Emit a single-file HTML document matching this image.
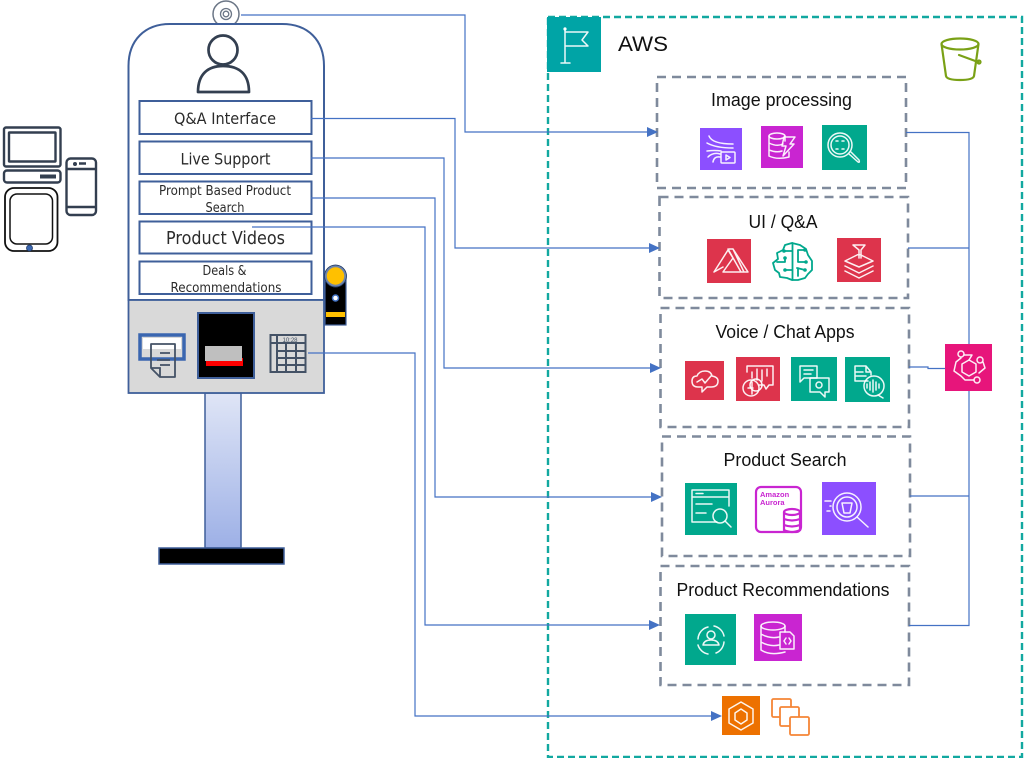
<!DOCTYPE html>
<html><head><meta charset="utf-8"><style>
html,body{margin:0;padding:0;background:#fff;width:1024px;height:758px;overflow:hidden}
svg{display:block;filter:blur(.3px)}
.k{font-family:"DejaVu Sans","Liberation Sans",sans-serif;fill:#2b2b2b;text-anchor:middle}
.a{font-family:"Liberation Sans",sans-serif;fill:#111;text-anchor:middle}
.c{fill:none;stroke:#4472c4;stroke-width:1.2}
.d{fill:none;stroke:#7f8a9c;stroke-width:2.6;stroke-dasharray:9 6}
.b{fill:#fff;stroke:#3f5f9a;stroke-width:2}
.i{fill:none;stroke:#fff;stroke-width:1.5;stroke-opacity:.92;stroke-linecap:round;stroke-linejoin:round}
.n{fill:none;stroke:#333f50;stroke-width:2.4;stroke-linejoin:round}
</style></head><body>
<svg width="1024" height="758" viewBox="0 0 1024 758" xmlns="http://www.w3.org/2000/svg">
<defs><linearGradient id="g" x1="0" y1="0" x2="0" y2="1"><stop offset="0" stop-color="#dfe5f6"/><stop offset="1" stop-color="#9db0e6"/></linearGradient></defs>

<!-- AWS box -->
<rect x="548" y="17" width="474" height="740" fill="none" stroke="#12a8a0" stroke-width="2.4" stroke-dasharray="7 4"/>
<rect x="547" y="17" width="54" height="55" fill="#00a4a6"/>
<g class="i"><path d="M565 28V63M561 63H570M565 32H588L582 40L588 46H565"/></g>
<circle cx="565" cy="29" r="1.6" fill="#fff"/>
<text class="a" x="643" y="51" font-size="21" textLength="50" lengthAdjust="spacingAndGlyphs">AWS</text>

<!-- bucket -->
<g fill="none" stroke="#7aa116" stroke-width="2.2" stroke-linecap="round">
<ellipse cx="960" cy="44" rx="18.5" ry="5.5"/>
<path d="M941.5 44L946 76Q947 80 960 80Q973 80 974 76L978.5 44"/>
<path d="M959 55L978 62"/><circle cx="979" cy="62" r="1.5"/></g>

<!-- kiosk -->
<rect x="205" y="393" width="36" height="155" fill="url(#g)" stroke="#3f5f9a" stroke-width="1.5"/>
<rect x="159" y="548" width="125" height="16" fill="#000" stroke="#3f5f9a" stroke-width="1.5"/>
<circle cx="226" cy="14" r="13" fill="#fff" stroke="#6b7686" stroke-width="1.5"/>
<circle cx="226" cy="14" r="5.5" fill="none" stroke="#6b7686" stroke-width="1.3"/>
<circle cx="226" cy="14" r="2.8" fill="none" stroke="#6b7686" stroke-width="1.3"/>
<path d="M128.5 300V66C128.5 40 145 24 170 24H282C308 24 324 40 324 66V300Z" fill="#fff" stroke="#3f5f9a" stroke-width="2"/>
<rect x="128.5" y="300" width="195.5" height="93" fill="#d9d9d9" stroke="#3f5f9a" stroke-width="1.8"/>

<!-- person -->
<circle cx="223" cy="50" r="14.5" fill="none" stroke="#333f50" stroke-width="2.7"/>
<path d="M198 92C198 74 208 66 223 66C239 66 249 74 249 92Z" fill="none" stroke="#333f50" stroke-width="2.7" stroke-linejoin="round"/>

<!-- menu -->
<rect class="b" x="139.5" y="101" width="172" height="33"/>
<rect class="b" x="139.5" y="141.5" width="172" height="32.5"/>
<rect class="b" x="139.5" y="181.5" width="172" height="32.5"/>
<rect class="b" x="139.5" y="221.5" width="172" height="32"/>
<rect class="b" x="139.5" y="261.5" width="172" height="32.5"/>
<text class="k" x="225" y="124" font-size="16" textLength="102" lengthAdjust="spacingAndGlyphs">Q&amp;A Interface</text>
<text class="k" x="225.5" y="164.500" font-size="16" textLength="90" lengthAdjust="spacingAndGlyphs">Live Support</text>
<text class="k" x="225" y="195" font-size="13" textLength="132" lengthAdjust="spacingAndGlyphs">Prompt Based Product</text>
<text class="k" x="225" y="212" font-size="13" textLength="39" lengthAdjust="spacingAndGlyphs">Search</text>
<text class="k" x="225.5" y="244" font-size="18" textLength="119" lengthAdjust="spacingAndGlyphs">Product Videos</text>
<text class="k" x="224.5" y="275" font-size="13" textLength="44" lengthAdjust="spacingAndGlyphs">Deals &amp;</text>
<text class="k" x="226" y="292" font-size="13" textLength="111" lengthAdjust="spacingAndGlyphs">Recommendations</text>

<!-- scanner -->
<rect x="325" y="278" width="21" height="47" fill="#000" stroke="#3f5f9a" stroke-width="1.2"/>
<rect x="326" y="312" width="19" height="5" fill="#ffc000"/>
<circle cx="335.5" cy="298" r="3" fill="#fff" stroke="#3f6fc0" stroke-width="1.5"/>
<circle cx="335.5" cy="276" r="10" fill="#ffc000" stroke="#6d84ad" stroke-width="2.5"/>
<circle cx="335.5" cy="276" r="11" fill="none" stroke="#1f3864" stroke-width=".8"/>

<!-- printer -->
<rect x="140" y="335" width="44" height="24" fill="#d9d9d9" stroke="#3a66b0" stroke-width="3.5"/>
<rect x="143" y="338" width="38" height="11" fill="#fff"/>
<path d="M151 344H175V377H160L151 368Z" fill="none" stroke="#445266" stroke-width="1.8" stroke-linejoin="round"/>
<path d="M151 368H160V377M160 353H170M157 360H170M160 365H170" fill="none" stroke="#445266" stroke-width="1.8"/>

<!-- screen -->
<rect x="198" y="313" width="56" height="65" fill="#000" stroke="#3f5f9a" stroke-width="2"/>
<rect x="206" y="358" width="37" height="8" fill="#f00"/>
<rect x="205" y="346" width="37" height="15" fill="#bfbfbf"/>

<!-- keypad -->
<g fill="none" stroke="#445266" stroke-width="2">
<rect x="270.5" y="335" width="35" height="37"/>
<path d="M270.5 343H305.5M277 335V372M277 351H305.5M277 358H305.5M277 365H305.5M286 343V372M296 343V372"/></g>
<text x="290" y="342" font-family="Liberation Sans,sans-serif" font-size="6" fill="#445266" text-anchor="middle">10:28</text>

<!-- devices -->
<g class="n">
<rect x="4" y="127.5" width="56.5" height="39" rx="2"/>
<rect x="9" y="132.5" width="46.5" height="29" rx=".5"/>
<rect x="4" y="170.5" width="56.5" height="12" rx="3"/>
<rect x="66.5" y="158.5" width="29.5" height="56.5" rx="4"/>
<path d="M66.5 169H96M66.5 207H96M79 163.5H86"/>
</g>
<rect x="40" y="174.5" width="16" height="4" fill="#333f50"/>
<circle cx="75" cy="164" r="2" fill="#333f50"/>
<rect x="5" y="188" width="52.5" height="63" rx="9" fill="#fff" stroke="#111" stroke-width="1.8"/>
<rect x="10" y="194" width="42.5" height="50" rx="7" fill="#fff" stroke="#111" stroke-width="1.5"/>
<circle cx="29.5" cy="248" r="3" fill="#3a66b0" stroke="#1f3864" stroke-width=".8"/>

<!-- dashed boxes -->
<rect class="d" x="657" y="77" width="249" height="111"/>
<rect class="d" x="659.5" y="197" width="248.5" height="101"/>
<rect class="d" x="660.5" y="308" width="248.5" height="119"/>
<rect class="d" x="662" y="436.5" width="248" height="119.5"/>
<rect class="d" x="660.5" y="566" width="248.5" height="119"/>
<text class="a" x="781.5" y="106" font-size="18" textLength="141" lengthAdjust="spacingAndGlyphs">Image processing</text>
<text class="a" x="783" y="228" font-size="18" textLength="69" lengthAdjust="spacingAndGlyphs">UI / Q&amp;A</text>
<text class="a" x="785" y="338" font-size="18" textLength="139" lengthAdjust="spacingAndGlyphs">Voice / Chat Apps</text>
<text class="a" x="785" y="466" font-size="18" textLength="123" lengthAdjust="spacingAndGlyphs">Product Search</text>
<text class="a" x="783" y="596" font-size="18" textLength="213" lengthAdjust="spacingAndGlyphs">Product Recommendations</text>

<!-- connectors -->
<path class="c" d="M241 15H465V132H648"/>
<path class="c" d="M311 118.5H455V248H650"/>
<path class="c" d="M311 158H444V368H651"/>
<path class="c" d="M311 198H435V497H652"/>
<path class="c" d="M252 227H425V625H650"/>
<path class="c" d="M308 353H415V716H712"/>
<g fill="#4472c4">
<path d="M658 132L647 127V137Z"/><path d="M660 248L649 243V253Z"/><path d="M661 368L650 363V373Z"/>
<path d="M662 497L651 492V502Z"/><path d="M660 625L649 620V630Z"/><path d="M722 716L711 711V721Z"/>
</g>
<path class="c" d="M906 132.5H969V625.5H909M908 248H969M910 496H969M909 367H928V368.5H945"/>

<!-- Image processing icons -->
<rect x="700" y="128" width="42" height="42" fill="#8c4fff"/>
<g class="i"><path d="M709 136Q712 144 733 144M707 143Q716 148 733 148M707 151Q715 150 721 151M708 157Q713 152 720 154M713 162Q714 156 720 157"/><rect x="721" y="152" width="14" height="11" rx="1"/><path d="M726 155V160L730 157.5Z"/></g>
<rect x="761" y="126" width="42" height="42" fill="#c925d1"/>
<g class="i"><ellipse cx="777" cy="136" rx="8" ry="3"/><path d="M769 136V156M785 136V141M769 143Q777 147 783 144M769 150Q777 153 782 151M769 156Q777 160 789 157V152"/><path d="M784 137H795L790 144H794L783 156L786 146H782Z"/></g>
<rect x="822" y="125" width="45" height="45" fill="#01a88d"/>
<g class="i"><circle cx="840" cy="145" r="12"/><circle cx="840" cy="145" r="9"/><path d="M849 154L858 162Q860 163 859 160L851 152M836 141L838 141M844 141L842 141M836 149H838M844 149H842"/></g>

<!-- UI Q&A icons -->
<rect x="707" y="239" width="44" height="44" fill="#dd344c"/>
<g class="i"><path d="M714 272L728 250L733 258L723 272H741M729 249H733L744 272M733 249L748 272H741L728 249M723 267L714 272"/></g>
<rect x="837" y="238" width="44" height="44" fill="#dd344c"/>
<g class="i"><path d="M853 245H865L861 250V258M859 258V250L853 245M845 261L859 254L873 261L859 267ZM845 266L859 273L873 266M845 271L859 278L873 271"/></g>
<g fill="none" stroke="#01a88d" stroke-width="1.8" stroke-linecap="round" stroke-linejoin="round">
<path d="M792 243L785 245L783 250L777 253L778 259L773 263L775 270L779 273L780 277L787 278L792 280L798 280L805 278L808 274L812 270L812 261L808 255L806 249L800 245Z"/>
<path d="M792.5 243V280M792.5 251H784M785 262L777 262M785 270H792M798 250L806 250M798 250V262H806M797 268L805 270M798 268V276M785 262V258"/>
</g>
<g fill="#01a88d"><circle cx="784" cy="251" r="1.8"/><circle cx="785" cy="258" r="1.8"/><circle cx="785" cy="270" r="1.8"/><circle cx="805" cy="250" r="1.8"/><circle cx="806" cy="262" r="1.8"/><circle cx="805" cy="270" r="1.8"/></g>

<!-- Voice icons -->
<rect x="685" y="361" width="39" height="39" fill="#dd344c"/>
<g class="i"><path d="M702 392V387H698Q692 387 692 381Q692 376 697 376Q699 371 705 371Q711 371 712 376Q718 377 718 381Q718 387 711 387H707Z"/><path d="M697 382L702 379L705 383L711 376"/></g>
<rect x="736" y="357" width="44" height="44" fill="#dd344c"/>
<g class="i"><path d="M747 372V366H773V385H769L766 389L764 385H759"/><path d="M752 372V378M757 369V380M762 370V381M767 369V376"/><circle cx="751" cy="388" r="8"/><circle cx="756" cy="385" r="6"/><path d="M748 388H753M752 382V394"/></g>
<rect x="791" y="357" width="46" height="44" fill="#01a88d"/>
<g class="i"><path d="M800 366H817V378H804L800 382ZM804 370H813M804 374H811"/><path d="M810 378H829V392H825V397L820 392H810Z"/><circle cx="819" cy="385" r="3"/></g>
<rect x="845" y="357" width="45" height="45" fill="#01a88d"/>
<g class="i"><path d="M855 381V366H866L871 372V375M866 366V372H871M855 372H863M855 376H866M855 381H868"/><circle cx="874" cy="386" r="10"/><path d="M867 384V388M870 382V390M873 380V392M876 382V390M879 384V388M878 395L883 398"/></g>

<!-- Search icons -->
<rect x="685" y="483" width="52" height="52" fill="#01a88d"/>
<g class="i"><path d="M717 522H692V490H729V506M692 497H729M696 493.5H703M696 504H712M696 513H706"/><circle cx="720" cy="516" r="7"/><path d="M725 521L731 527"/></g>
<rect x="756" y="487" width="45" height="45" rx="5" fill="#fff" stroke="#c925d1" stroke-width="2.2"/>
<text x="760" y="497" font-family="Liberation Sans,sans-serif" font-size="7.5" font-weight="700" fill="#c925d1">Amazon</text>
<text x="760" y="505" font-family="Liberation Sans,sans-serif" font-size="7.5" font-weight="700" fill="#c925d1">Aurora</text>
<g fill="#fff" stroke="#c925d1" stroke-width="2.2"><path d="M784 512V530Q792 534 800 530V512"/><ellipse cx="792" cy="512" rx="8" ry="3"/><path d="M784 519Q792 522 800 519M784 525Q792 528 800 525" fill="none"/></g>
<rect x="822" y="482" width="54" height="53" fill="#8c4fff"/>
<g class="i"><circle cx="847" cy="507" r="14"/><circle cx="847" cy="507" r="10"/><path d="M842 503H852L850 513H844ZM857 517L868 527M831 501H825M830 506H831M830 511H827"/></g>

<!-- Recommend icons -->
<rect x="685" y="614" width="51" height="51" fill="#01a88d"/>
<g class="i"><path d="M698 639A13 13 0 0 1 708 627M714 626A13 13 0 0 1 724 636M724 642A13 13 0 0 1 716 653M708 654A13 13 0 0 1 698 645"/><circle cx="711" cy="635" r="4"/><path d="M703 645Q704 640 711 640Q718 640 719 645Z"/></g>
<rect x="754" y="614" width="48" height="47" fill="#c925d1"/>
<g class="i"><ellipse cx="773" cy="626" rx="12" ry="4"/><path d="M761 626V650Q770 656 785 652M761 634Q770 639 779 637M761 642Q770 647 779 645M785 626V632"/><path d="M780 632H790L794 636V649H780Z"/><path d="M786 638L784 641L786 644M789 638L791 641L789 644"/></g>

<!-- EventBridge -->
<rect x="945" y="344" width="47" height="47" fill="#e7157b"/>
<g class="i"><path d="M969 360L976 364V372L969 376L962 372V364Z"/><circle cx="961" cy="354" r="3"/><circle cx="980" cy="360" r="3"/><circle cx="977" cy="380" r="3"/><path d="M964 355H972L969 360M983 362L985 368L979 373M974 380H965L961 376L954 371L956 362L961 358"/></g>

<!-- Orange -->
<rect x="722" y="696" width="38" height="39" fill="#ed7100"/>
<g class="i"><path d="M741 702L753 709V723L741 730L729 723V709ZM741 709L747 713V720L741 724L735 720V713Z"/></g>
<g fill="#fff" stroke="#f58536" stroke-width="1.8" stroke-linejoin="round">
<rect x="772" y="699" width="19" height="18" rx="1.5"/>
<rect x="780" y="707" width="19" height="19" rx="1.5"/>
<rect x="790" y="717" width="19" height="18" rx="1.5"/>
</g>
</svg>
</body></html>
